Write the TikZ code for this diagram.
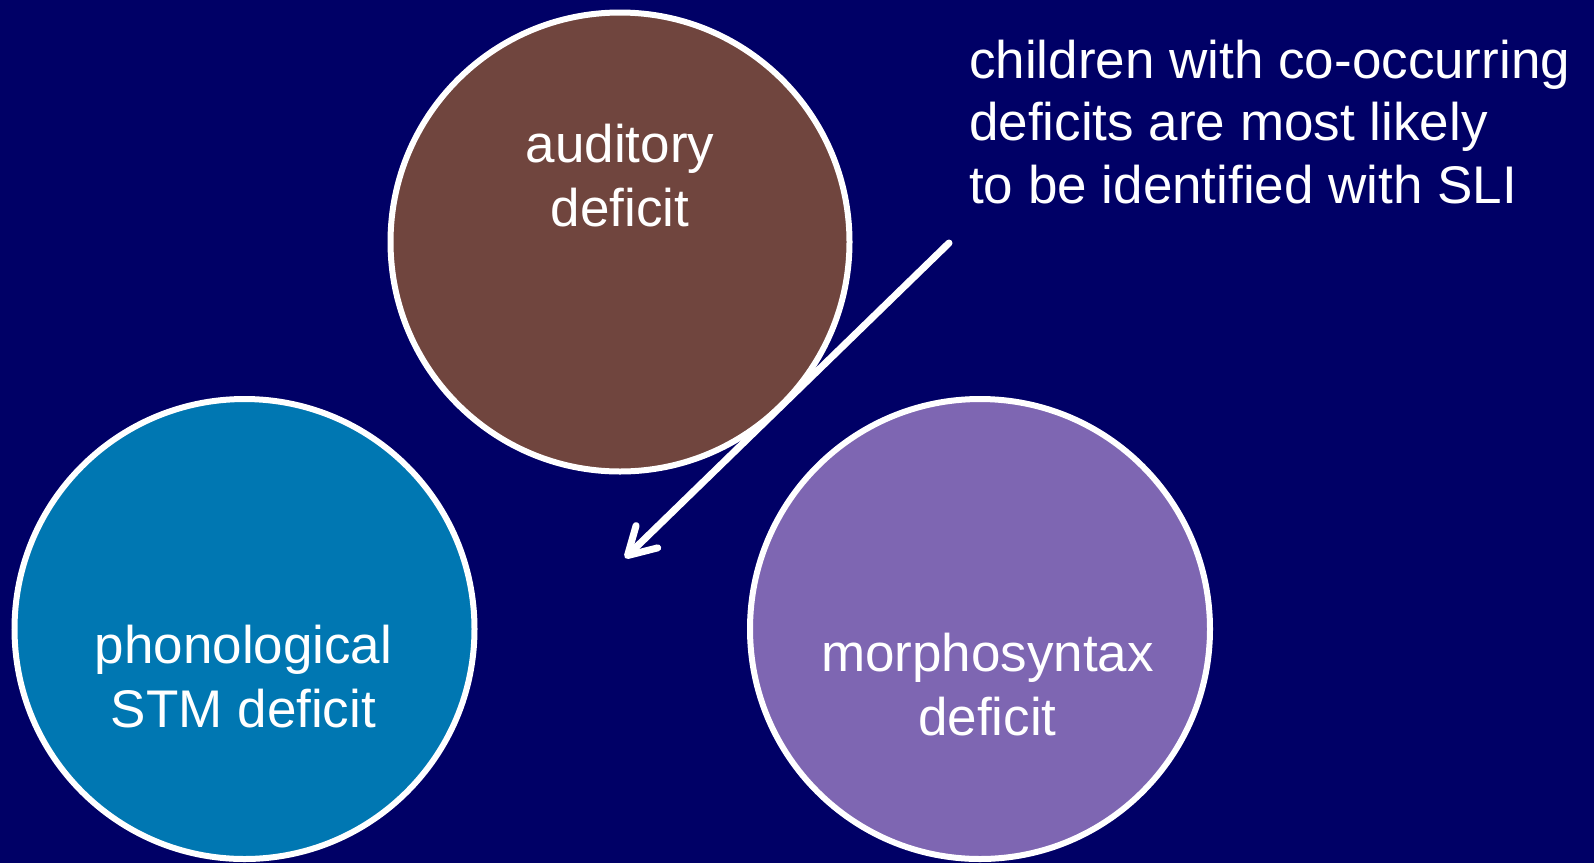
\documentclass[tikz,border=0pt]{standalone}
\usepackage{fontspec}
\setmainfont{Liberation Sans}
\usetikzlibrary{arrows.meta}
\definecolor{bgnavy}{RGB}{0,0,102}
\definecolor{brownfill}{RGB}{112,69,62}
\definecolor{bluefill}{RGB}{0,119,178}
\definecolor{purplefill}{RGB}{126,102,178}
\tikzset{
  deficit/.style={circle, draw=white, line width=6pt, minimum size=460pt, inner sep=0pt},
  circlabel/.style={text=white, align=center, font=\fontsize{53}{64}\selectfont, inner sep=0pt, anchor=base},
  note/.style={text=white, align=left, font=\fontsize{53}{62.5}\selectfont, inner sep=0pt, anchor=base west},
  pointer/.style={draw=white, line width=7pt, line cap=round, line join=round,
    -{Straight Barb[length=27pt, width=31pt, line cap=round, line join=round]}}
}
\begin{document}
\begin{tikzpicture}[x=1pt, y=-1pt]
  \fill[bgnavy] (0,0) rectangle (1594,863);
  \useasboundingbox (0,0) rectangle (1594,863);
  \node[deficit, fill=brownfill, minimum size=459pt] (aud) at (620,242) {};
  \node[deficit, fill=bluefill] (phon) at (244.5,629) {};
  \node[deficit, fill=purplefill] (morph) at (980,629) {};
  \node[circlabel] (audtxt) at (620,226) {auditory\\deficit};
  \node[circlabel] (phontxt) at (243.5,727) {phonological\\STM deficit};
  \node[circlabel] (morphtxt) at (987.5,735) {morphosyntax\\deficit};
  \node[note] (notetxt) at (969,203) {children with co-occurring\\deficits are most likely\\to be identified with SLI};
  \coordinate (start) at (949,243);
  \coordinate (tip) at (625,558);
  \draw[pointer] (start) -- (tip);
\end{tikzpicture}
\end{document}
